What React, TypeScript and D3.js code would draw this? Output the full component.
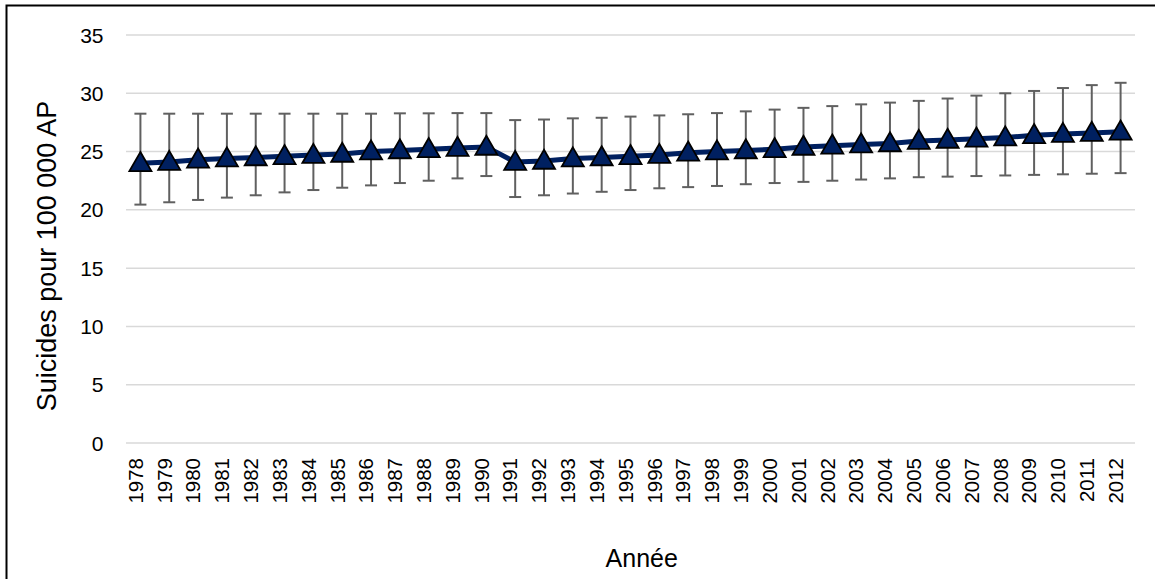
import React from "react";
import * as d3 from "d3";

const years = [
  "1978","1979","1980","1981","1982","1983","1984","1985","1986","1987","1988","1989","1990",
  "1991","1992","1993","1994","1995","1996","1997","1998","1999","2000","2001","2002","2003",
  "2004","2005","2006","2007","2008","2009","2010","2011","2012",
];

const rates = [
  24.0, 24.1, 24.3, 24.4, 24.5, 24.6, 24.7, 24.8, 25.0, 25.1, 25.2, 25.3, 25.4,
  24.1, 24.2, 24.4, 24.5, 24.6, 24.7, 24.9, 25.0, 25.1, 25.2, 25.4, 25.5, 25.6,
  25.7, 25.9, 26.0, 26.1, 26.2, 26.4, 26.5, 26.6, 26.7,
];

const upper = [
  28.25, 28.25, 28.25, 28.25, 28.25, 28.25, 28.25, 28.25, 28.25, 28.28, 28.28, 28.3, 28.3,
  27.7, 27.75, 27.85, 27.9, 28.0, 28.1, 28.2, 28.3, 28.45, 28.6, 28.75, 28.9, 29.05,
  29.2, 29.35, 29.55, 29.8, 30.0, 30.2, 30.45, 30.7, 30.9,
];

const lower = [
  20.45, 20.65, 20.85, 21.05, 21.25, 21.5, 21.7, 21.9, 22.1, 22.3, 22.5, 22.7, 22.9,
  21.1, 21.25, 21.4, 21.55, 21.7, 21.85, 21.95, 22.05, 22.2, 22.3, 22.4, 22.5, 22.6,
  22.7, 22.8, 22.85, 22.9, 22.95, 23.0, 23.05, 23.1, 23.15,
];

const yTicks = [0, 5, 10, 15, 20, 25, 30, 35];

const yTitle = "Suicides pour 100 000 AP";
const xTitle = "Année";

export default function App() {
  const W = 1155;
  const H = 579;
  const x = d3.scaleBand<string>().domain(years).range([126, 1135]).padding(0);
  const y = d3.scaleLinear().domain([0, 35]).range([443, 35]);
  const cx = (yr: string) => (x(yr) as number) + x.bandwidth() / 2;

  const line = d3
    .line<number>()
    .x((_, i) => cx(years[i]))
    .y((d) => y(d));

  const tri = d3.symbol().type(d3.symbolTriangle).size(210)();
  const font = "'Liberation Sans', Arial, sans-serif";

  return (
    <svg
      width={W}
      height={H}
      style={{ position: "absolute", left: 0, top: 0, background: "#fff" }}
      fontFamily={font}
    >
      <rect x={0} y={0} width={W} height={H} fill="#fff" />
      <rect x={6.5} y={5.5} width={W + 20} height={H + 20} fill="none" stroke="#000" strokeWidth={2} />
      {yTicks.map((t) => (
        <g key={t}>
          <line x1={126} x2={1135} y1={y(t)} y2={y(t)} stroke="#d9d9d9" strokeWidth={1.5} />
          <text x={103.5} y={y(t)} dy="0.36em" textAnchor="end" fontSize={21} fill="#000">
            {t}
          </text>
        </g>
      ))}
      {years.map((yr) => (
        <text
          key={yr}
          transform={`translate(${cx(yr) + 2.3},458) rotate(-90)`}
          textAnchor="end"
          fontSize={20.5}
          fill="#000"
        >
          {yr}
        </text>
      ))}
      <path d={line(rates) || ""} fill="none" stroke="#002060" strokeWidth={5} />
      {years.map((yr, i) => {
        const px = cx(yr);
        return (
          <g key={yr} stroke="#606060" strokeWidth={2}>
            <line x1={px} x2={px} y1={y(upper[i])} y2={y(lower[i])} />
            <line x1={px - 6} x2={px + 6} y1={y(upper[i])} y2={y(upper[i])} />
            <line x1={px - 6} x2={px + 6} y1={y(lower[i])} y2={y(lower[i])} />
          </g>
        );
      })}
      {years.map((yr, i) => (
        <path
          key={yr}
          d={tri || ""}
          transform={`translate(${cx(yr)},${y(rates[i]) + 1.5})`}
          fill="#002060"
          stroke="#000"
          strokeWidth={1.8}
          strokeLinejoin="miter"
        />
      ))}
      <text
        transform={`translate(56,256) rotate(-90)`}
        textAnchor="middle"
        fontSize={27}
        fill="#000"
      >
        {yTitle}
      </text>
      <text x={641.7} y={567.3} textAnchor="middle" fontSize={25} fill="#000">
        {xTitle}
      </text>
    </svg>
  );
}
